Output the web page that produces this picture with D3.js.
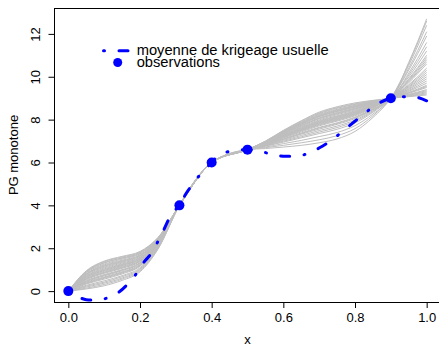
<!DOCTYPE html>
<html>
<head>
<meta charset="utf-8">
<script src="https://cdn.jsdelivr.net/npm/d3@7"></script>
<style>
  body { margin: 0; background: #fff; }
  text { font-family: "Liberation Sans", Arial, Helvetica, sans-serif; fill: #000; }
</style>
</head>
<body>
<svg id="chart" width="439" height="346"></svg>
<script>
// observations
const obsX = [0, 0.31, 0.4, 0.5, 0.9];
const obsY = [0, 4, 6, 6.6, 9];

// usual kriging mean
const meanX = [0, 0.033, 0.05, 0.068, 0.105, 0.14, 0.163, 0.19, 0.209, 0.234, 0.251, 0.266, 0.289, 0.31,
    0.326, 0.349, 0.369, 0.4, 0.416, 0.457, 0.5, 0.529, 0.566, 0.605, 0.639, 0.675, 0.71, 0.738,
    0.767, 0.798, 0.825, 0.855, 0.9, 0.925, 0.96, 1.0];
const meanY = [0, -0.31, -0.4, -0.42, -0.34, -0.06, 0.28, 0.82, 1.31, 1.82, 2.35, 2.85, 3.63, 4.0,
    4.48, 5.03, 5.46, 6.0, 6.3, 6.54, 6.6, 6.54, 6.4, 6.29, 6.29, 6.48, 6.77, 7.08,
    7.48, 7.9, 8.26, 8.65, 9.0, 9.06, 9.07, 8.88];

// monotone GP sample paths, between the observations
const seg1X = [0.05, 0.1, 0.15, 0.2, 0.25];
const seg2X = [0.55, 0.6, 0.65, 0.7, 0.75, 0.8, 0.85];
const seg3X = [0.95, 1.0];

const seg1Paths = [
    [0.63, 0.96, 1.19, 1.49, 2.29], [0.23, 0.42, 0.67, 1.04, 2.03], [0.85, 1.26, 1.49, 1.74, 2.43],
    [0.44, 0.71, 0.95, 1.28, 2.17], [0.92, 1.37, 1.59, 1.82, 2.48], [0.57, 0.88, 1.12, 1.42, 2.25],
    [0.33, 0.56, 0.80, 1.16, 2.10], [0.71, 1.08, 1.31, 1.58, 2.35], [0.14, 0.31, 0.56, 0.95, 1.98],
    [0.79, 1.18, 1.41, 1.67, 2.40], [0.48, 0.77, 1.00, 1.33, 2.20], [0.66, 1.01, 1.24, 1.53, 2.31],
    [0.38, 0.63, 0.87, 1.21, 2.13], [0.95, 1.40, 1.62, 1.85, 2.50], [0.59, 0.92, 1.15, 1.45, 2.27],
    [0.27, 0.48, 0.72, 1.09, 2.06], [0.75, 1.12, 1.35, 1.62, 2.37], [0.53, 0.83, 1.06, 1.38, 2.23],
    [0.88, 1.31, 1.53, 1.77, 2.46], [0.19, 0.37, 0.61, 1.00, 2.01], [0.69, 1.04, 1.27, 1.56, 2.33],
    [0.41, 0.66, 0.90, 1.24, 2.15], [0.81, 1.22, 1.44, 1.70, 2.41], [0.10, 0.25, 0.50, 0.90, 1.95],
    [0.55, 0.86, 1.09, 1.40, 2.24], [0.36, 0.60, 0.84, 1.19, 2.12], [0.77, 1.16, 1.38, 1.65, 2.38],
    [0.64, 0.97, 1.21, 1.50, 2.30], [0.47, 0.74, 0.98, 1.31, 2.19], [0.90, 1.33, 1.55, 1.79, 2.47]
];
const seg2Paths = [
    [6.90, 7.27, 7.61, 7.92, 8.15, 8.38, 8.66], [6.97, 7.44, 7.86, 8.24, 8.48, 8.67, 8.84],
    [6.77, 6.99, 7.20, 7.42, 7.63, 7.92, 8.38], [6.93, 7.34, 7.72, 8.06, 8.30, 8.51, 8.74],
    [6.84, 7.15, 7.43, 7.71, 7.93, 8.18, 8.54], [7.00, 7.50, 7.95, 8.35, 8.60, 8.78, 8.90],
    [6.87, 7.20, 7.51, 7.81, 8.03, 8.27, 8.60], [6.69, 6.80, 6.92, 7.06, 7.25, 7.58, 8.18],
    [6.95, 7.38, 7.78, 8.14, 8.38, 8.58, 8.78], [6.82, 7.09, 7.35, 7.61, 7.82, 8.09, 8.48],
    [6.91, 7.31, 7.66, 7.99, 8.23, 8.45, 8.70], [6.98, 7.46, 7.89, 8.28, 8.53, 8.71, 8.86],
    [6.88, 7.23, 7.56, 7.86, 8.09, 8.33, 8.63], [6.79, 7.03, 7.26, 7.49, 7.70, 7.98, 8.42],
    [6.96, 7.41, 7.81, 8.18, 8.42, 8.62, 8.80], [6.85, 7.17, 7.47, 7.75, 7.97, 8.22, 8.56],
    [6.65, 6.72, 6.80, 6.92, 7.10, 7.45, 8.10], [6.92, 7.33, 7.70, 8.04, 8.27, 8.49, 8.72],
    [6.83, 7.11, 7.38, 7.64, 7.85, 8.12, 8.50], [6.99, 7.48, 7.92, 8.31, 8.56, 8.74, 8.88],
    [6.76, 6.95, 7.15, 7.35, 7.55, 7.85, 8.34], [6.90, 7.28, 7.63, 7.95, 8.18, 8.41, 8.68],
    [6.94, 7.36, 7.74, 8.09, 8.33, 8.54, 8.76], [6.87, 7.22, 7.54, 7.84, 8.06, 8.30, 8.61],
    [6.97, 7.42, 7.84, 8.21, 8.45, 8.65, 8.82], [6.72, 6.88, 7.03, 7.21, 7.40, 7.72, 8.26],
    [6.89, 7.25, 7.58, 7.89, 8.12, 8.35, 8.64], [6.95, 7.39, 7.79, 8.15, 8.39, 8.59, 8.79],
    [6.81, 7.07, 7.32, 7.56, 7.78, 8.05, 8.46], [6.86, 7.19, 7.49, 7.78, 8.00, 8.25, 8.58]
];
const seg3Paths = [
    [9.54, 10.2], [10.17, 11.6], [9.23, 9.5], [10.67, 12.7], [9.36, 9.8], [9.86, 10.9],
    [9.14, 9.3], [9.99, 11.2], [9.45, 10.0], [10.40, 12.1], [9.27, 9.6], [9.72, 10.6],
    [9.09, 9.2], [10.31, 11.9], [9.63, 10.4], [9.18, 9.4], [10.53, 12.4], [9.41, 9.9],
    [9.81, 10.8], [9.07, 9.15], [10.08, 11.4], [9.59, 10.3], [9.32, 9.7], [9.90, 11.0],
    [9.16, 9.35], [10.62, 12.6], [9.50, 10.1], [9.25, 9.55], [9.77, 10.7], [9.11, 9.25]
];

const xTicks = [0, 0.2, 0.4, 0.6, 0.8, 1.0];
const yTicks = [0, 2, 4, 6, 8, 10, 12];
const legendLabels = ["moyenne de krigeage usuelle", "observations"];

// build the full paths
let paths = seg1Paths.map((s1, i) => {
    let pts = [[obsX[0], obsY[0]]];
    seg1X.forEach((x, j) => pts.push([x, s1[j]]));
    pts.push([obsX[1], obsY[1]], [obsX[2], obsY[2]], [obsX[3], obsY[3]]);
    seg2X.forEach((x, j) => pts.push([x, seg2Paths[i][j]]));
    pts.push([obsX[4], obsY[4]]);
    seg3X.forEach((x, j) => pts.push([x, seg3Paths[i][j]]));
    return pts;
});

let svg = d3.select("#chart");
let mLeft = 54, mRight = 441, mTop = 8, mBottom = 302;

let allY = paths.flat().map(p => p[1]);
let yMin = d3.min(allY), yMax = d3.max(allY);
let yPad = 0.04 * (yMax - yMin);

let x = d3.scaleLinear().domain([-0.04, 1.04]).range([mLeft, mRight]);
let y = d3.scaleLinear().domain([yMin - yPad, yMax + yPad]).range([mBottom, mTop]);

let line = d3.line()
    .x(d => x(d[0]))
    .y(d => y(d[1]))
    .curve(d3.curveMonotoneX);

svg.append("g")
    .selectAll("path")
    .data(paths).enter().append("path")
    .attr("d", line)
    .attr("fill", "none")
    .attr("stroke", "#bebebe")
    .attr("stroke-width", 1);

let meanPts = meanX.map((v, i) => [v, meanY[i]]);
svg.append("path")
    .datum(meanPts)
    .attr("d", line)
    .attr("fill", "none")
    .attr("stroke", "#0000ff")
    .attr("stroke-width", 3)
    .attr("stroke-linecap", "round")
    .attr("stroke-dasharray", "1,14.5,9,14.5");

svg.append("g")
    .selectAll("circle")
    .data(obsX).enter().append("circle")
    .attr("cx", d => x(d))
    .attr("cy", (d, i) => y(obsY[i]))
    .attr("r", 5)
    .attr("fill", "#0000ff");

// box
svg.append("rect")
    .attr("x", mLeft + 0.5)
    .attr("y", mTop + 0.5)
    .attr("width", mRight - mLeft)
    .attr("height", mBottom - mTop)
    .attr("fill", "none")
    .attr("stroke", "#000")
    .attr("stroke-width", 1);

// axes
let xAxis = svg.append("g")
    .attr("transform", `translate(0,${mBottom + 0.5})`)
    .call(d3.axisBottom(x).tickValues(xTicks).tickFormat(d3.format(".1f")).tickSize(5.5).tickPadding(5));
xAxis.select(".domain").remove();
xAxis.selectAll("text").attr("font-size", 13).attr("font-family", "Liberation Sans, Arial, sans-serif");

let yAxis = svg.append("g")
    .attr("transform", `translate(${mLeft + 0.5},0)`)
    .call(d3.axisLeft(y).tickValues(yTicks).tickSize(6));
yAxis.select(".domain").remove();
yAxis.selectAll("text")
    .attr("font-size", 13)
    .attr("font-family", "Liberation Sans, Arial, sans-serif")
    .attr("x", null).attr("dy", null)
    .attr("text-anchor", "middle")
    .attr("transform", "translate(-14.5,0) rotate(-90)");

svg.append("text")
    .attr("x", (mLeft + mRight) / 2)
    .attr("y", 344)
    .attr("text-anchor", "middle")
    .attr("font-size", 13)
    .text("x");

svg.append("text")
    .attr("transform", `translate(17.5,${(mTop + mBottom) / 2}) rotate(-90)`)
    .attr("text-anchor", "middle")
    .attr("font-size", 13)
    .text("PG monotone");

// legend
let lg = svg.append("g");
lg.append("line")
    .attr("x1", 103.5).attr("x2", 130)
    .attr("y1", 50.7).attr("y2", 50.7)
    .attr("stroke", "#0000ff")
    .attr("stroke-width", 3)
    .attr("stroke-linecap", "round")
    .attr("stroke-dasharray", "1,14.5,9,14.5");
lg.append("circle")
    .attr("cx", 117.7).attr("cy", 62.5)
    .attr("r", 4.5)
    .attr("fill", "#0000ff");
lg.selectAll("text")
    .data(legendLabels).enter().append("text")
    .attr("x", 136.7)
    .attr("y", (d, i) => 54.5 + i * 12.3)
    .attr("font-size", 14.7)
    .text(d => d);
</script>
</body>
</html>
